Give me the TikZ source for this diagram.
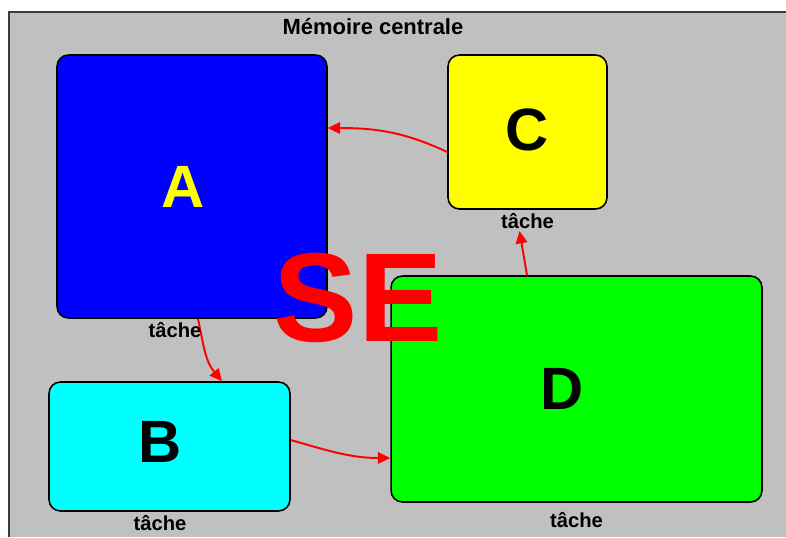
\documentclass[tikz,border=0pt]{standalone}
\usepackage{fontspec}
\setmainfont{Liberation Sans}
\usetikzlibrary{positioning,arrows.meta}
\definecolor{memGray}{RGB}{192,192,192}
\definecolor{frameLine}{RGB}{60,60,60}
\definecolor{seRed}{RGB}{255,0,0}
\definecolor{tBlue}{RGB}{0,0,255}
\definecolor{tYellow}{RGB}{255,255,0}
\definecolor{tCyan}{RGB}{0,255,255}
\definecolor{tGreen}{RGB}{0,255,0}
\tikzset{
  task/.style={rectangle, rounded corners=6.5pt, draw=black, line width=0.9pt,
               inner sep=0pt},
  letter/.style={font=\fontsize{34}{34}\selectfont\bfseries, inner sep=0pt},
  tlbl/.style={font=\fontsize{11.5}{12}\selectfont\bfseries, inner sep=1pt},
  flow/.style={-{Triangle[length=7pt,width=6.5pt]}, draw=seRed, line width=1.1pt},
}

\begin{document}
\begin{tikzpicture}[x=0.02cm, y=-0.02cm]
  \useasboundingbox (0,0) rectangle (786,537);
  % memory frame
  \fill[white] (0,0) rectangle (786,537);
  \fill[memGray] (8,11) rectangle (786,537);
  \draw[frameLine, line width=1.2pt] (8.6,537) -- (8.6,11.6) -- (786,11.6);
  \node[font=\fontsize{12.5}{13}\selectfont\bfseries] (title) at (373,27) {Mémoire centrale};

  % tasks
  \node[task, fill=tBlue, minimum width=5.4cm, minimum height=5.26cm,
        label={[letter, text=tYellow, xshift=-0.18cm]center:A}] (A) at (192,186.5) {};
  \node[task, fill=tYellow, minimum width=3.18cm, minimum height=3.08cm,
        label={[letter, yshift=0.04cm]center:C}] (C) at (527.5,132) {};
  \node[task, fill=tCyan, minimum width=4.82cm, minimum height=2.58cm,
        label={[letter, xshift=-0.19cm, yshift=0.1cm]center:B}] (B) at (169.5,446.5) {};
  \node[task, fill=tGreen, minimum width=7.42cm, minimum height=4.52cm,
        label={[letter, xshift=-0.29cm]center:D}] (D) at (576.5,389) {};

  % arrows between tasks
  \draw[flow] ([xshift=0.12cm]A.south) to[out=-78, in=130] ([xshift=1.05cm]B.north);
  \draw[flow] ([yshift=0.13cm]B.east) to[out=-16, in=180] ([yshift=-1.38cm]D.west);
  \draw[flow] ([yshift=-0.4cm]C.west) to[out=155, in=0] ([yshift=1.17cm]A.east);

  \node[tlbl, below=1pt of A.south, xshift=-0.34cm] (tA) {tâche};
  \node[tlbl, below=1pt of C.south] (tC) {tâche};
  \node[tlbl, below=1pt of B.south, xshift=-0.19cm] (tB) {tâche};
  \node[tlbl, below=4pt of D.south] (tD) {tâche};

  \draw[flow] ([xshift=-0.99cm]D.north) -- ([xshift=-0.16cm]tC.south);

  % system
  \node[text=seRed, inner sep=0pt, font=\fontsize{72}{72}\selectfont\bfseries] (se) at (358,298) {SE};
\end{tikzpicture}
\end{document}
